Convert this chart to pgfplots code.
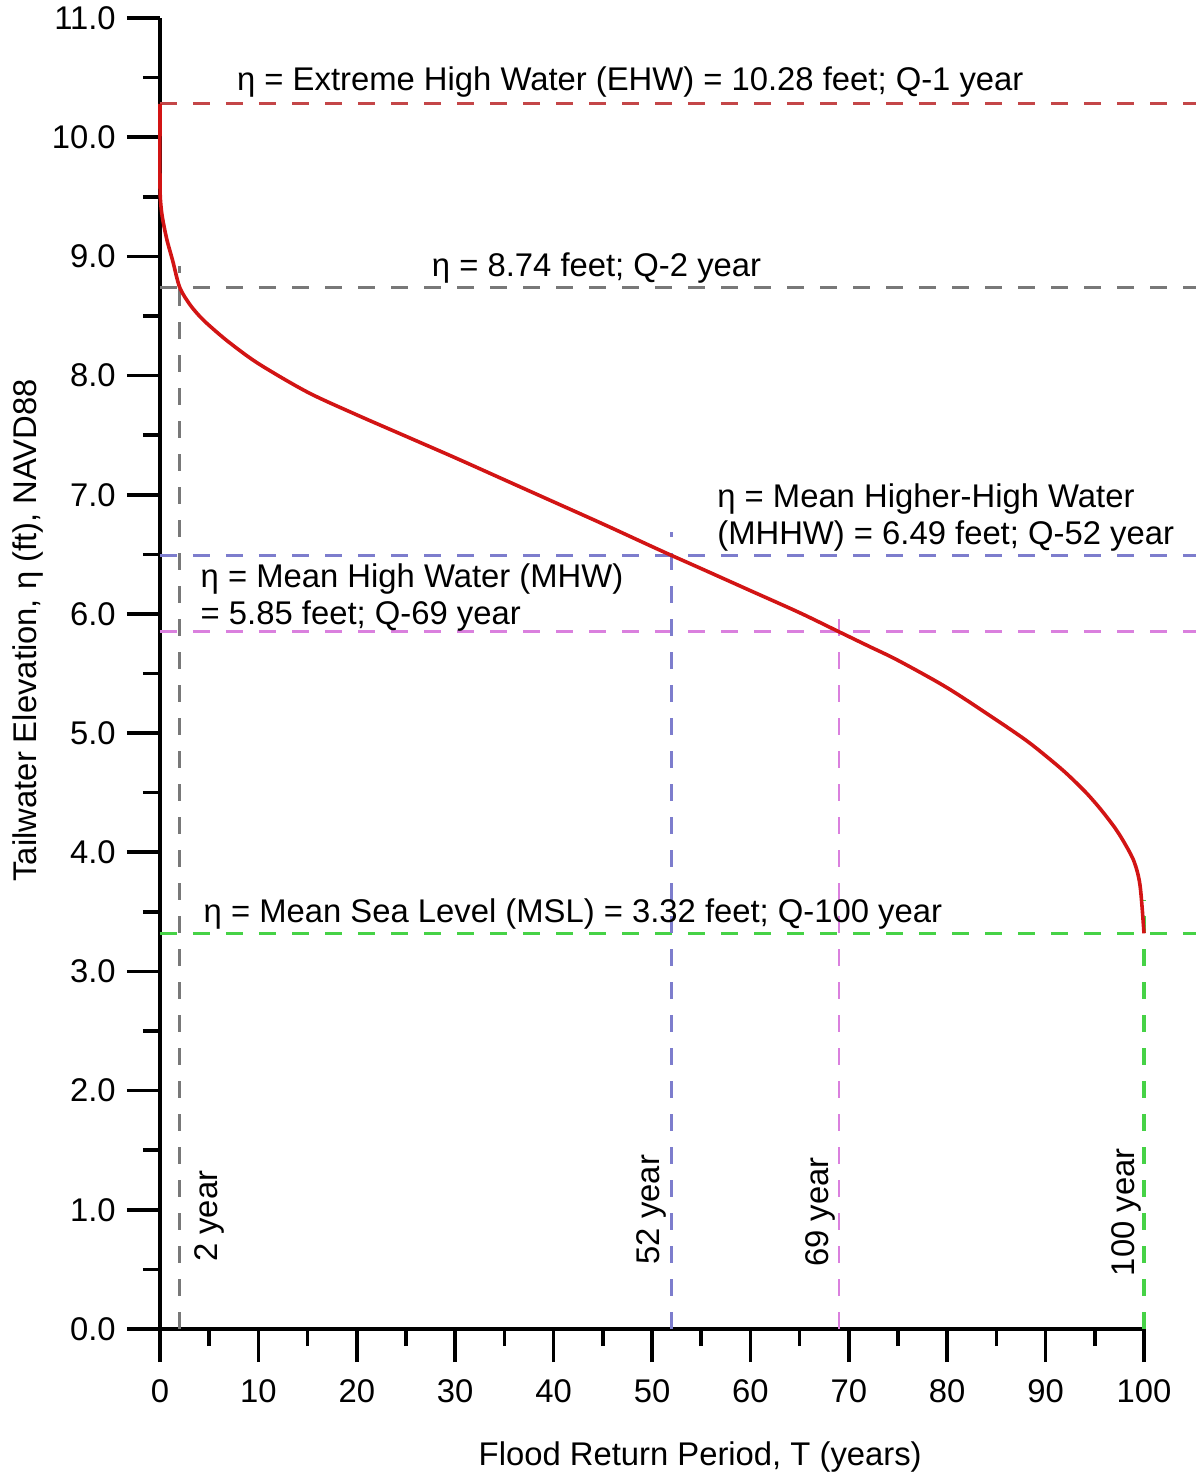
\documentclass[border=0pt]{standalone}
\usepackage{pgfplots}
\pgfplotsset{compat=1.18}
\usepackage{fontspec}
\setmainfont{Liberation Sans}
\definecolor{cEHW}{RGB}{196,70,72}
\definecolor{cGray}{RGB}{120,120,120}
\definecolor{cBlue}{RGB}{125,125,205}
\definecolor{cMag}{RGB}{218,128,222}
\definecolor{cGreen}{RGB}{70,210,70}
\definecolor{cCurve}{RGB}{210,20,20}
\begin{document}
\fontsize{16.4}{19}\selectfont
\begin{tikzpicture}
\begin{axis}[
  at={(0,0)}, anchor=south west,
  scale only axis, width=492pt, height=655.5pt,
  xmin=0, xmax=100, ymin=0, ymax=11,
  clip=false,
  axis x line=bottom, axis y line=left,
  axis line style={-, line width=1.9pt, black},
  xtick={0,10,...,100}, ytick={0,1,...,11},
  minor x tick num=1, minor y tick num=1,
  tick align=outside,
  major tick length=16.5pt, minor tick length=8.5pt,
  tick style={line width=1.8pt, black},
  /pgf/number format/assume math mode=true,
  yticklabel style={/pgf/number format/.cd, fixed, fixed zerofill, precision=1},
  xticklabel style={yshift=-3pt},
  xlabel={Flood Return Period, T (years)},
  ylabel={Tailwater Elevation, η (ft), NAVD88},
  xlabel style={at={(axis description cs:0.549,-0.0976)}, anchor=center},
  ylabel style={at={(axis description cs:-0.134,0.533)}, anchor=center},
]
% horizontal reference lines
\addplot[cEHW, line width=1.4pt, dash pattern=on 8.5pt off 8pt] coordinates {(0,10.28) (105.3,10.28)};
\addplot[cGray, line width=1.4pt, dash pattern=on 8.5pt off 8pt] coordinates {(0,8.74) (105.3,8.74)};
\addplot[cBlue, line width=1.4pt, dash pattern=on 8.5pt off 8pt] coordinates {(0,6.49) (105.3,6.49)};
\addplot[cMag, line width=1.4pt, dash pattern=on 8.5pt off 8pt] coordinates {(0,5.85) (105.3,5.85)};
\addplot[cGreen, line width=1.6pt, dash pattern=on 8.5pt off 8pt] coordinates {(0,3.32) (105.3,3.32)};
% vertical reference lines
\addplot[cGray, line width=1.4pt, dash pattern=on 8.5pt off 8pt] coordinates {(2,0) (2,8.92)};
\addplot[cBlue, line width=1.4pt, dash pattern=on 8.5pt off 8pt] coordinates {(52,0) (52,6.69)};
\addplot[cMag, line width=1.4pt, dash pattern=on 8.5pt off 8pt] coordinates {(69,0) (69,6.09)};
\addplot[cGreen, line width=1.6pt, dash pattern=on 8.5pt off 8pt] coordinates {(100,0) (100,3.60)};
% curve
\addplot[cCurve, line width=1.8pt, smooth, tension=0.5] coordinates {
(0,10.28)(0,9.6)(0.1,9.42)(0.3,9.3)(0.7,9.14)(1.3,8.96)(2,8.74)(3,8.6)(4,8.5)(5,8.42)(7,8.28)(10,8.1)(15,7.86)(20,7.67)(25,7.49)(30,7.31)(35,7.125)(40,6.94)(45,6.755)(50,6.565)(52,6.49)(55,6.38)(60,6.195)(65,6.01)(69,5.85)(72,5.73)(75,5.61)(80,5.38)(85,5.11)(88,4.94)(90,4.81)(92,4.67)(94,4.51)(95.5,4.37)(97,4.21)(98,4.08)(99,3.92)(99.6,3.72)(100,3.32)};
% annotations
\node[anchor=base west, inner sep=0pt] at (axis cs:7.8,10.39) {η = Extreme High Water (EHW) = 10.28 feet; Q-1 year};
\node[anchor=base west, inner sep=0pt] at (axis cs:27.6,8.83) {η = 8.74 feet; Q-2 year};
\node[anchor=base west, inner sep=0pt] at (axis cs:56.6,6.89) {η = Mean Higher-High Water};
\node[anchor=base west, inner sep=0pt] at (axis cs:56.6,6.58) {(MHHW) = 6.49 feet; Q-52 year};
\node[anchor=base west, inner sep=0pt] at (axis cs:4.1,6.22) {η = Mean High Water (MHW)};
\node[anchor=base west, inner sep=0pt] at (axis cs:4.1,5.91) {= 5.85 feet; Q-69 year};
\node[anchor=base west, inner sep=0pt] at (axis cs:4.4,3.41) {η = Mean Sea Level (MSL) = 3.32 feet; Q-100 year};
\node[anchor=base west, inner sep=0pt, rotate=90] at (axis cs:5.8,0.56) {2 year};
\node[anchor=base west, inner sep=0pt, rotate=90] at (axis cs:50.8,0.54) {52 year};
\node[anchor=base west, inner sep=0pt, rotate=90] at (axis cs:67.9,0.52) {69 year};
\node[anchor=base west, inner sep=0pt, rotate=90] at (axis cs:99.0,0.44) {100 year};
\end{axis}
\pgfresetboundingbox
\useasboundingbox (-80pt,-73.5pt) rectangle (518pt,664.5pt);
\end{tikzpicture}
\end{document}
